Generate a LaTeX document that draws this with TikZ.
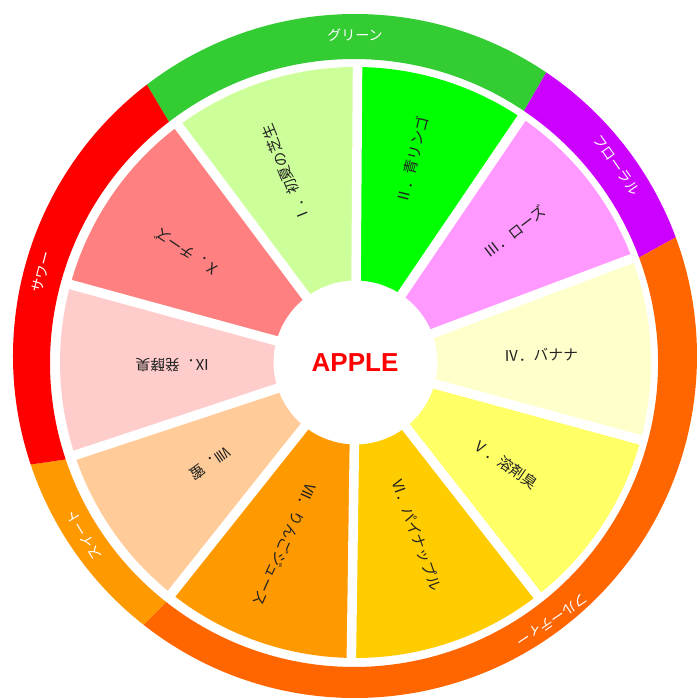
\documentclass[tikz,border=0pt]{standalone}
\usepackage{fontspec}
\setmainfont{Liberation Sans}
\newfontfamily\jpfont{Noto Sans CJK JP}
\definecolor{cI}{HTML}{CCFF99}
\definecolor{cII}{HTML}{00FF00}
\definecolor{cIII}{HTML}{FF99FF}
\definecolor{cIV}{HTML}{FFFFCC}
\definecolor{cV}{HTML}{FFFF66}
\definecolor{cVI}{HTML}{FFCC00}
\definecolor{cVII}{HTML}{FF9900}
\definecolor{cVIII}{HTML}{FFCC99}
\definecolor{cIX}{HTML}{FFCCCC}
\definecolor{cX}{HTML}{FF8080}
\definecolor{rGreen}{HTML}{33CC33}
\definecolor{rFloral}{HTML}{CC00FF}
\definecolor{rFruity}{HTML}{FF6600}
\definecolor{rSweet}{HTML}{FF9900}
\definecolor{rSour}{HTML}{FF0000}
\definecolor{labeltext}{HTML}{222222}
\newcommand\ringpart[3]{\fill[#3] ([shift={(#1:342pt)}]RO) arc[start angle=#1,end angle=#2,radius=342pt] -- ([shift={(#2:304pt)}]RI) arc[start angle=#2,end angle=#1,radius=304pt] -- cycle;}
\newcommand\segwedge[3]{\fill[#3] ([shift={(#1:82pt)}]C) arc[start angle=#1,end angle=#2,radius=82pt] -- ([shift={(#2:295.5pt)}]C) arc[start angle=#2,end angle=#1,radius=295.5pt] -- cycle;}
\newcommand\gapat[1]{\draw[gapline] (C) -- ([shift={(#1:301pt)}]C);}
\begin{document}
\begin{tikzpicture}[x=1pt,y=1pt,
  seglabel/.style={font=\jpfont\fontsize{14.8}{16}\selectfont, text=labeltext, inner sep=0pt},
  ringlabel/.style={font=\jpfont\fontsize{14}{15}\selectfont, text=white, inner sep=0pt},
  gapline/.style={draw=white, line width=9.5pt}]
\useasboundingbox (0,0) rectangle (697,698);
\fill[white] (0,0) rectangle (697,698);
\coordinate (C) at (355.5,335.5);
\coordinate (RI) at (354,335);
\coordinate (RO) at (355,342);
% outer ring
\ringpart{56}{127.5}{rGreen}
\ringpart{20.3}{56}{rFloral}
\ringpart{-128.2}{20.3}{rFruity}
\ringpart{-161.5}{-128.2}{rSweet}
\ringpart{127.5}{198.5}{rSour}
% segments
\segwedge{89.6}{126.8}{cI}
\segwedge{55.8}{89.6}{cII}
\segwedge{20.6}{55.8}{cIII}
\segwedge{-15.2}{20.6}{cIV}
\segwedge{-52}{-15.2}{cV}
\segwedge{-90.8}{-52}{cVI}
\segwedge{-128.5}{-90.8}{cVII}
\segwedge{-161.7}{-128.5}{cVIII}
\segwedge{164.7}{198.3}{cIX}
\segwedge{126.8}{164.7}{cX}
% white gaps
\gapat{89.6}\gapat{55.8}\gapat{20.6}\gapat{-15.2}\gapat{-52}
\gapat{-90.8}\gapat{-128.5}\gapat{-161.7}\gapat{164.7}\gapat{126.8}
% segment labels
\node[seglabel, rotate=112] (lI) at (285.8,524.7) {Ⅰ．初夏の芝生};
\node[seglabel, rotate=76] (lII) at (412.8,538.2) {Ⅱ．青リンゴ};
\node[seglabel, rotate=37.5] (lIII) at (515,466.5) {Ⅲ．ローズ};
\node[seglabel, rotate=1] (lIV) at (541,343) {Ⅳ．バナナ};
\node[seglabel, rotate=-34.5] (lV) at (505.5,234) {Ⅴ．溶剤臭};
\node[seglabel, rotate=-70] (lVI) at (416.5,163) {Ⅵ．パイナップル};
\node[seglabel, rotate=-114] (lVII) at (285,153) {Ⅶ．りんごジュース};
\node[seglabel, rotate=-145] (lVIII) at (210,234) {Ⅷ．蜜};
\node[seglabel, rotate=180] (lIX) at (172.5,333) {Ⅸ．発酵臭};
\node[seglabel, rotate=146] (lX) at (187.5,445.5) {Ⅹ．チーズ};
% ring labels
\node[ringlabel] (gGreen) at (355,663) {グリーン};
\node[ringlabel, rotate=-55] (gFloral) at (616.5,533) {フローラル};
\node[ringlabel, rotate=-146] (gFruity) at (552,78) {フルーティー};
\node[ringlabel, rotate=121] (gSweet) at (84,163) {スイート};
\node[ringlabel, rotate=75.5] (gSour) at (42,426) {サワー};
% center
\node[font=\fontsize{26}{30}\selectfont\bfseries, text=red, inner sep=0pt] (title) at (355,335.5) {APPLE};
\end{tikzpicture}
\end{document}
